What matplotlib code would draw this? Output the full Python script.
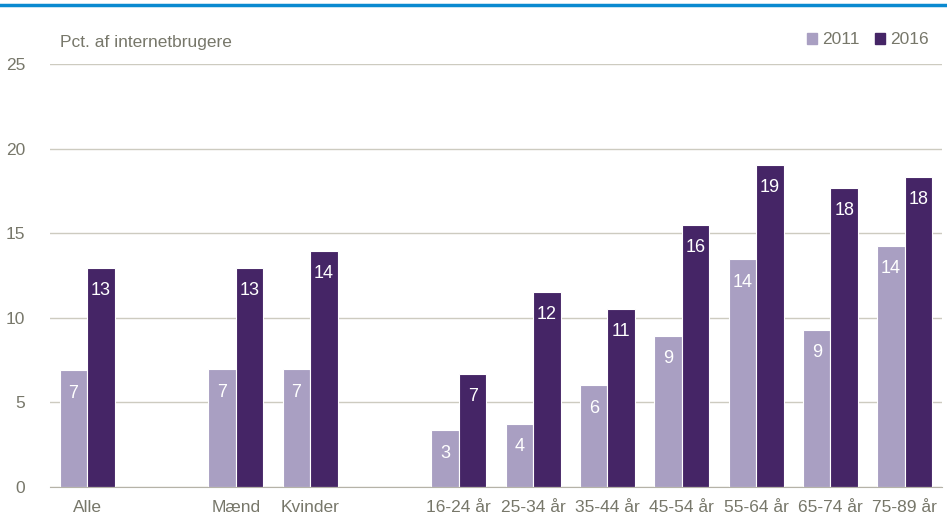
import numpy as np
import matplotlib
matplotlib.use("Agg")
import matplotlib.pyplot as plt
from matplotlib.lines import Line2D
from matplotlib.patches import Patch

plt.rcParams['font.family'] = ['Liberation Sans', 'DejaVu Sans']

# categories, empty strings are spacer slots
categories = ["Alle", "", "Mænd", "Kvinder", "", "16-24 år", "25-34 år",
              "35-44 år", "45-54 år", "55-64 år", "65-74 år", "75-89 år"]
values_2011 = [6.9, None, 6.95, 6.95, None, 3.35, 3.75, 6.0, 8.95, 13.45, 9.3, 14.25]
values_2016 = [12.95, None, 12.95, 13.95, None, 6.7, 11.55, 10.55, 15.5, 19.05, 17.7, 18.35]
labels_2011 = ["7", "", "7", "7", "", "3", "4", "6", "9", "14", "9", "14"]
labels_2016 = ["13", "", "13", "14", "", "7", "12", "11", "16", "19", "18", "18"]
yticks = [0, 5, 10, 15, 20, 25]

c2011 = "#a99fc2"
c2016 = "#452566"
grey_txt = "#77776a"
grid_col = "#cdcbc0"

fig = plt.figure(figsize=(9.47, 5.23), dpi=100)
ax = fig.add_axes([0.0528, 0.0688, 0.9419, 0.8088])

x = np.arange(len(categories))
w = 0.37
for i in range(len(categories)):
    if values_2011[i] is None:
        continue
    ax.bar(x[i] - w / 2, values_2011[i], w, color=c2011, edgecolor="white", linewidth=0.8, zorder=3)
    ax.bar(x[i] + w / 2, values_2016[i], w, color=c2016, edgecolor="white", linewidth=0.8, zorder=3)
    ax.text(x[i] - w / 2, values_2011[i] - 1.35, labels_2011[i], ha="center", va="center",
            color="white", fontsize=13, zorder=4)
    ax.text(x[i] + w / 2, values_2016[i] - 1.35, labels_2016[i], ha="center", va="center",
            color="white", fontsize=13, zorder=4)

ax.set_xlim(-0.5, len(categories) - 0.5)
ax.set_ylim(0, 25)
ax.set_yticks(yticks)
ax.set_xticks(x)
ax.set_xticklabels(categories)
ax.tick_params(axis="both", length=0, labelsize=12.5, colors=grey_txt)
ax.tick_params(axis="x", pad=9)
ax.tick_params(axis="y", pad=18)
ax.grid(axis="y", color=grid_col, linewidth=1, zorder=0)
for s in ["top", "right", "left"]:
    ax.spines[s].set_visible(False)
ax.spines["bottom"].set_color("#b5b3a8")
ax.spines["bottom"].set_zorder(5)

fig.text(60 / 947, 1 - 42 / 523, "Pct. af internetbrugere", ha="left", va="center",
         fontsize=12.5, color=grey_txt)

handles = [Patch(color=c2011, label="2011"), Patch(color=c2016, label="2016")]
fig.legend(handles=handles, loc="center right", bbox_to_anchor=(0.997, 1 - 40 / 523),
           ncol=2, frameon=False, fontsize=12.5, handlelength=0.55, handleheight=0.55,
           handletextpad=0.3, columnspacing=0.9, labelcolor=grey_txt)

# blue rule at the top
fig.add_artist(Line2D([0, 1], [1 - 5 / 523, 1 - 5 / 523], color="#0a8ad0", linewidth=2.5,
                      transform=fig.transFigure))

fig.savefig("out.png", dpi=100)
